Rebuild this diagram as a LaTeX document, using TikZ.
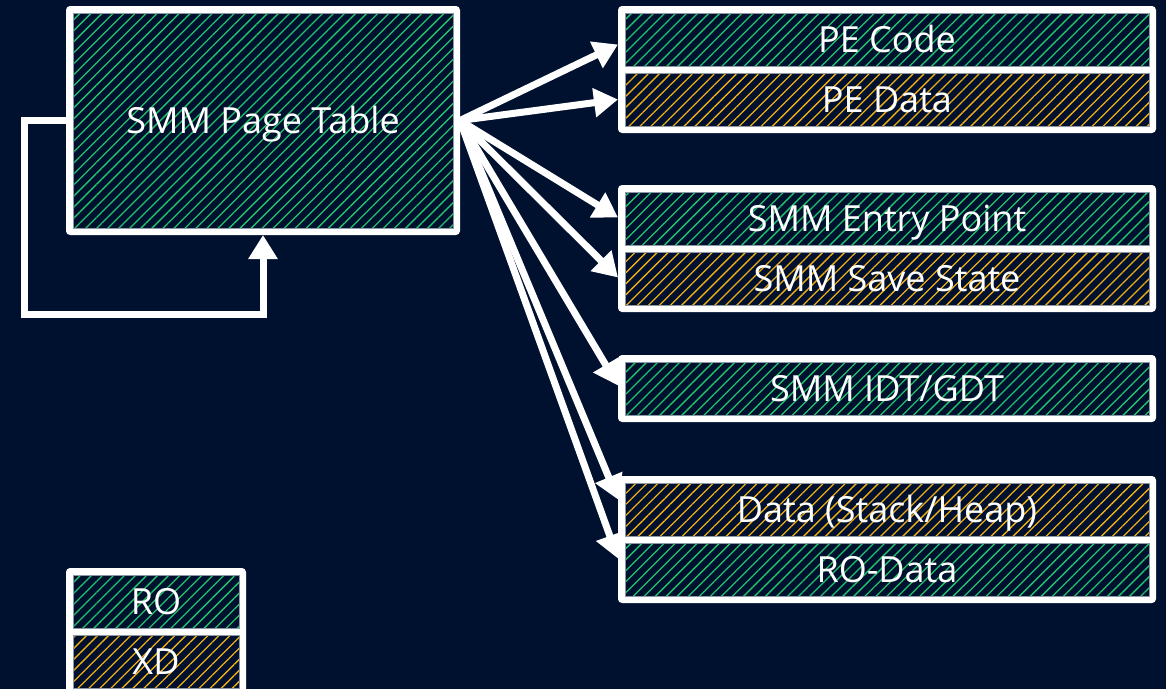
\documentclass[tikz,border=0pt]{standalone}
\usepackage{fontspec}
\setmainfont{Open Sans}
\usetikzlibrary{patterns.meta,arrows.meta,fit,backgrounds}
\definecolor{navy}{HTML}{00112F}
\definecolor{rogreen}{HTML}{22C46C}
\definecolor{xdgold}{HTML}{F0AE14}
\definecolor{edgegray}{HTML}{8C97A8}
\begin{document}
\begin{tikzpicture}[x=1pt,y=-1pt,
    every node/.style={inner sep=0pt, outer sep=7pt, text=white, text height=26pt, text depth=0pt, font=\fontsize{36}{40}\selectfont},
    hatch/.style={preaction={fill=navy}, pattern={Lines[angle=45,distance=7.8pt,line width=1.3pt]}, draw=edgegray, line width=0.8pt},
    rofill/.style={hatch, pattern color=rogreen},
    xdfill/.style={hatch, pattern color=xdgold},
    rowbox/.style={minimum width=524pt, minimum height=53pt},
    keybox/.style={minimum width=166pt, minimum height=53pt},
    frame/.style={fill=white, rounded corners=4pt, inner sep=0pt, outer sep=0pt},
    arr/.style={draw=white, line width=7pt, -{Triangle[width=28pt,length=24pt]}}]
   	    \useasboundingbox (0,0) rectangle (1166,689);
   	    \begin{scope}[on background layer]
   	    \fill[navy] (0,0) rectangle (1166,689);
   	    \end{scope}
   	    \node[rofill, minimum width=380pt, minimum height=215pt] (pagetable) at (263,120.5) {SMM Page Table};
   	    \node[rofill, rowbox] (pecode) at (887,39.5) {PE Code};
   	    \node[xdfill, rowbox] (pedata) at (887,99.5) {PE Data};
   	    \node[rofill, rowbox] (entry) at (887,218.5) {SMM Entry Point};
   	    \node[xdfill, rowbox] (savestate) at (887,278.5) {SMM Save State};
   	    \node[rofill, rowbox] (idtgdt) at (887,388.5) {SMM IDT/GDT};
   	    \node[xdfill, rowbox] (heap) at (887,509.5) {Data (Stack/Heap)};
   	    \node[rofill, rowbox] (rodata) at (887,569.5) {RO-Data};
   	    \node[rofill, keybox] (ro) at (156,601.5) {RO};
   	    \node[xdfill, keybox] (xd) at (156,661.5) {XD};
   	    \begin{scope}[on background layer]
   	    \node[frame, fit=(pagetable)] {};
   	    \node[frame, fit=(pecode)(pedata)] {};
   	    \node[frame, fit=(entry)(savestate)] {};
   	    \node[frame, fit=(idtgdt)] {};
   	    \node[frame, fit=(heap)(rodata)] {};
   	    \node[frame, fit=(ro)(xd)] {};
   	    \end{scope}
   	    \coordinate (loopcorner) at (24,314);
   	    \draw[arr] (pagetable.west) -| (loopcorner) -| (pagetable.south);
   	    \foreach \t/\s in {pecode/-5,pedata/0,entry/1,savestate/1,idtgdt/3,heap/10,rodata/11}
   	    \draw[arr] (pagetable.east) -- ([yshift=\s pt]\t.west);
\end{tikzpicture}
\end{document}
